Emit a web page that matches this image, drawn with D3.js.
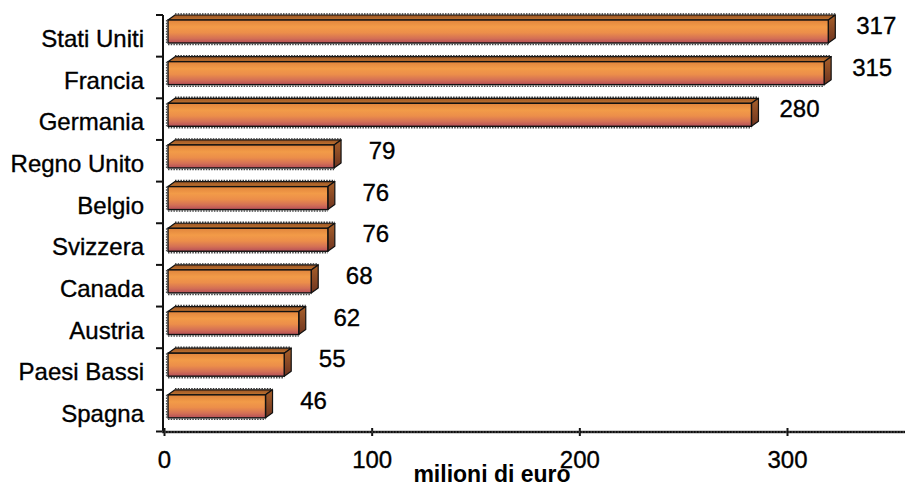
<!DOCTYPE html>
<html>
<head>
<meta charset="utf-8">
<script src="https://cdn.jsdelivr.net/npm/d3@7/dist/d3.min.js"></script>
<style>
  html, body { margin: 0; padding: 0; background: #fff; }
  svg { display: block; font-family: "Liberation Sans", Arial, sans-serif; }
</style>
</head>
<body>
<svg id="chart" width="905" height="484"></svg>
<script>
const categories = ["Stati Uniti", "Francia", "Germania", "Regno Unito", "Belgio", "Svizzera", "Canada", "Austria", "Paesi Bassi", "Spagna"];
const values = [317, 315, 280, 79, 76, 76, 68, 62, 55, 46];
const tickValues = [0, 100, 200, 300];
const axisTitle = "milioni di euro";

const svg = d3.select("#chart");
const W = 905, H = 484;

const x = d3.scaleLinear().domain([0, 300]).range([164, 787]);
const y = d3.scaleBand().domain(categories).range([15, 431.5]).padding(0);

const defs = svg.append("defs");
const gFront = defs.append("linearGradient").attr("id", "front").attr("x1", 0).attr("y1", 0).attr("x2", 0).attr("y2", 1);
[[0, "#E0843C"], [0.3, "#F29B48"], [0.55, "#EC8E4A"], [0.8, "#D47055"], [1, "#B44E58"]].forEach(s =>
  gFront.append("stop").attr("offset", s[0]).attr("stop-color", s[1]));
const gTop = defs.append("linearGradient").attr("id", "top").attr("x1", 0).attr("y1", 0).attr("x2", 0).attr("y2", 1);
[[0, "#9A5524"], [1, "#C27430"]].forEach(s =>
  gTop.append("stop").attr("offset", s[0]).attr("stop-color", s[1]));
const gSide = defs.append("linearGradient").attr("id", "side").attr("x1", 0).attr("y1", 0).attr("x2", 0).attr("y2", 1);
[[0, "#A8602A"], [1, "#6E3420"]].forEach(s =>
  gSide.append("stop").attr("offset", s[0]).attr("stop-color", s[1]));

const dx = 7, dy = 5, fh = 23;
const data = categories.map((c, i) => ({ c, v: values[i] }));

const bars = svg.append("g").selectAll("g.bar").data(data).join("g").attr("class", "bar");
bars.each(function(d) {
  const g = d3.select(this);
  const xl = x(0) + 4, xr = x(d.v) + 6;
  const yt = y(d.c) + dy, yb = yt + fh;
  g.append("path")
    .attr("d", `M${xl},${yt} L${xl + dx},${yt - dy} L${xr + dx},${yt - dy} L${xr},${yt} Z`)
    .attr("fill", "url(#top)").attr("stroke", "#111").attr("stroke-width", 1.2).attr("stroke-linejoin", "round");
  g.append("path")
    .attr("d", `M${xr},${yt} L${xr + dx},${yt - dy} L${xr + dx},${yb - dy} L${xr},${yb} Z`)
    .attr("fill", "url(#side)").attr("stroke", "#111").attr("stroke-width", 1.2).attr("stroke-linejoin", "round");
  g.append("rect")
    .attr("x", xl).attr("y", yt).attr("width", xr - xl).attr("height", fh)
    .attr("fill", "url(#front)").attr("stroke", "#111").attr("stroke-width", 1.4);
  g.append("line").attr("x1", xl + dx).attr("x2", xr + dx).attr("y1", yt - dy - 1).attr("y2", yt - dy - 1)
    .attr("stroke", "#333").attr("stroke-width", 1.5).attr("stroke-dasharray", "1.5,1.2");
  g.append("line").attr("x1", xl).attr("x2", xr).attr("y1", yb + 1.5).attr("y2", yb + 1.5)
    .attr("stroke", "#444").attr("stroke-width", 1.5).attr("stroke-dasharray", "1.5,1.2");
  g.append("line").attr("x1", xl - 1.5).attr("x2", xl - 1.5).attr("y1", yt).attr("y2", yb)
    .attr("stroke", "#555").attr("stroke-width", 1.2).attr("stroke-dasharray", "1.5,1.2");
});

const heavy = sel => sel.attr("stroke", "#000").attr("stroke-width", 0.35);

// value labels
svg.append("g").selectAll("text").data(data).join("text")
  .attr("x", d => x(d.v) + 54)
  .attr("y", d => y(d.c) + 19)
  .attr("text-anchor", "middle")
  .attr("font-size", 24)
  .attr("fill", "#000")
  .call(heavy)
  .text(d => d.v);

// category labels
svg.append("g").selectAll("text").data(categories).join("text")
  .attr("x", 144)
  .attr("y", d => y(d) + 32)
  .attr("text-anchor", "end")
  .attr("font-size", 24)
  .attr("fill", "#000")
  .call(heavy)
  .text(d => d);

// y axis
const yAxisX = 163;
svg.append("line").attr("x1", yAxisX).attr("x2", yAxisX).attr("y1", y.range()[0]).attr("y2", 433)
  .attr("stroke", "#111").attr("stroke-width", 2);
const boundaries = categories.map(c => y(c)).concat([y.range()[1]]);
svg.append("g").selectAll("line").data(boundaries).join("line")
  .attr("x1", yAxisX - 7).attr("x2", yAxisX).attr("y1", d => d).attr("y2", d => d)
  .attr("stroke", "#111").attr("stroke-width", 2);

// x axis
const xAxis = d3.axisBottom(x).tickValues(tickValues).tickSize(4).tickPadding(15).tickFormat(d3.format("d"));
const gx = svg.append("g").attr("transform", "translate(0,432)").call(xAxis);
gx.select(".domain").remove();
gx.selectAll(".tick line").attr("stroke", "#111").attr("stroke-width", 2).attr("y1", -4);
gx.selectAll(".tick text").attr("font-size", 24).attr("fill", "#000")
  .attr("font-family", "'Liberation Sans', Arial, sans-serif")
  .call(heavy);
svg.append("line").attr("x1", yAxisX - 1).attr("x2", W).attr("y1", 432).attr("y2", 432)
  .attr("stroke", "#3a3a3a").attr("stroke-width", 2.5);
svg.append("line").attr("x1", yAxisX).attr("x2", W).attr("y1", 432).attr("y2", 432)
  .attr("stroke", "#000").attr("stroke-width", 1.5).attr("stroke-dasharray", "1.5,1.5");

// axis title
svg.append("text")
  .attr("x", 492).attr("y", 482)
  .attr("text-anchor", "middle")
  .attr("font-size", 23).attr("font-weight", "bold")
  .attr("fill", "#000")
  .text(axisTitle);
</script>
</body>
</html>
